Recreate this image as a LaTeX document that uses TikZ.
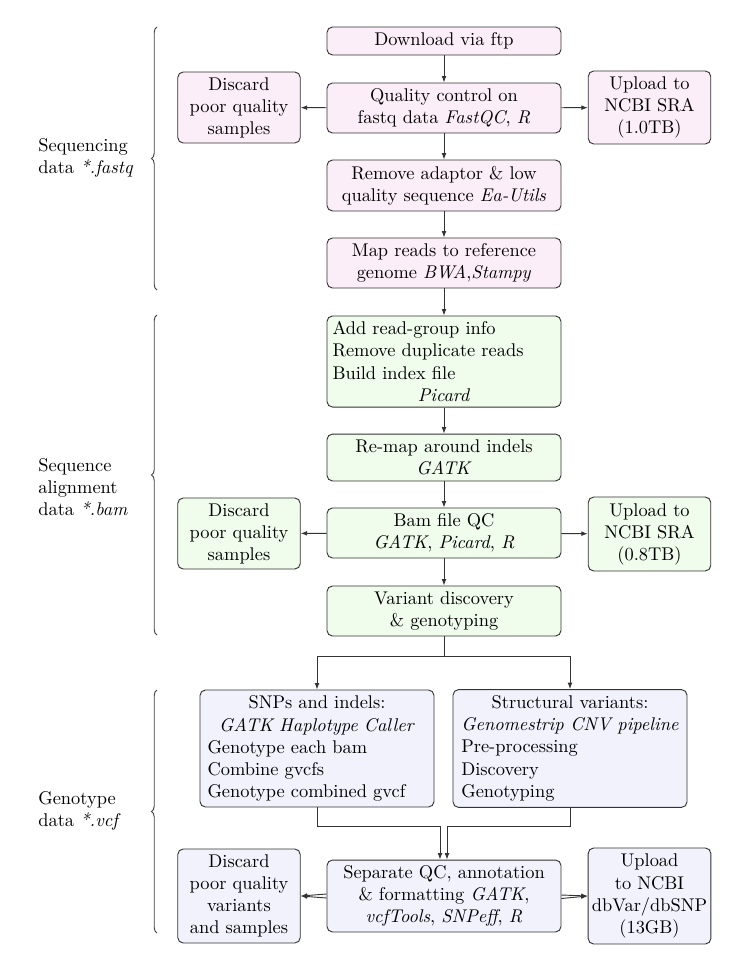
\documentclass[tikz,border=0pt]{standalone}
\usetikzlibrary{arrows.meta,decorations.pathreplacing,calc}
\definecolor{pinkfill}{HTML}{FCEEF8}
\definecolor{greenfill}{HTML}{F0FCEC}
\definecolor{bluefill}{HTML}{F2F2FC}
\definecolor{edge}{HTML}{333333}
\begin{document}
\begin{tikzpicture}[x=0.5435pt,y=-0.5435pt,
  box/.style={draw=edge, rounded corners=3pt, align=center, inner xsep=2pt, inner ysep=2pt, line width=0.5pt},
  wmain/.style={minimum width=127.2pt},
  wside/.style={minimum width=66.6pt},
  pinkbox/.style={box, fill=pinkfill},
  greenbox/.style={box, fill=greenfill},
  bluebox/.style={box, fill=bluefill},
  arr/.style={-{Latex[length=3.5pt,width=2.6pt]}, draw=edge, line width=0.5pt},
  ln/.style={draw=edge, line width=0.5pt},
  brc/.style={decorate, decoration={brace, amplitude=3pt}, draw=black!75, line width=0.5pt},
  lab/.style={anchor=west, align=left, inner sep=0pt}]

\useasboundingbox (0,0) rectangle (737,971);

% ---- sequencing block
\node[pinkbox, wmain, minimum height=15.2pt] (dl) at (444,41) {Download via ftp};
\node[pinkbox, wmain, minimum height=27.2pt] (qc) at (444,108) {Quality control on\\ fastq data \textit{FastQC}, \textit{R}};
\node[pinkbox, wmain, minimum height=27.7pt] (rm) at (444,185.5) {Remove adaptor \& low\\ quality sequence \textit{Ea-Utils}};
\node[pinkbox, wmain, minimum height=27.2pt] (mp) at (444,263) {Map reads to reference\\ genome \textit{BWA},\textit{Stampy}};
\node[pinkbox, wside, minimum height=38.6pt] (d1) at (239,107.5) {Discard\\ poor quality\\ samples};
\node[pinkbox, wside, minimum height=39.7pt] (u1) at (649.5,107.5) {Upload to\\ NCBI SRA\\ (1.0TB)};

% ---- alignment block
\node[greenbox, wmain, minimum height=49.5pt, text width=121.2pt, inner xsep=3pt, align=left] (add) at (444,361.5)
  {Add read-group info\\ Remove duplicate reads\\ Build index file\\ \makebox[121.2pt]{\textit{Picard}}};
\node[greenbox, wmain, minimum height=25.5pt] (remap) at (444,457.5) {Re-map around indels\\ \textit{GATK}};
\node[greenbox, wmain, minimum height=27.2pt] (bam) at (444,533) {Bam file QC\\ \textit{GATK}, \textit{Picard}, \textit{R}};
\node[greenbox, wmain, minimum height=27.2pt] (var) at (444,611) {Variant discovery\\ \& genotyping};
\node[greenbox, wside, minimum height=38.6pt] (d2) at (239,533.5) {Discard\\ poor quality\\ samples};
\node[greenbox, wside, minimum height=40.2pt] (u2) at (649.5,534) {Upload to\\ NCBI SRA\\ (0.8TB)};

% ---- genotype block
\node[bluebox, wmain, minimum height=63.6pt, text width=119pt, inner xsep=4.1pt, align=left] (snp) at (317,748.5)
  {\makebox[119pt]{SNPs and indels:}\\ \makebox[119pt]{\textit{GATK Haplotype Caller}}\\ Genotype each bam\\ Combine gvcfs\\ Genotype combined gvcf};
\node[bluebox, wmain, minimum height=63.6pt] (sv) at (570,748.5)
  {\begin{tabular}{@{}l@{}}\multicolumn{1}{@{}c@{}}{Structural variants:}\\ \textit{Genomestrip CNV pipeline}\\ Pre-processing\\ Discovery\\ Genotyping\end{tabular}};
\node[bluebox, wmain, minimum height=39.1pt] (sep) at (444,896) {Separate QC, annotation\\ \& formatting \textit{GATK},\\ \textit{vcfTools}, \textit{SNPeff}, \textit{R}};
\node[bluebox, wside, minimum height=51.1pt] (d3) at (239,896) {Discard\\ poor quality\\ variants\\ and samples};
\node[bluebox, wside, minimum height=52.2pt] (u3) at (649.5,896) {Upload\\ to NCBI\\ dbVar/dbSNP\\ (13GB)};

% ---- connectors
\draw[arr] (dl) -- (qc);
\draw[arr] (qc) -- (rm);
\draw[arr] (rm) -- (mp);
\draw[arr] (mp) -- (add);
\draw[arr] (add) -- (remap);
\draw[arr] (remap) -- (bam);
\draw[arr] (bam) -- (var);
\draw[arr] (qc) -- (d1);
\draw[arr] (qc) -- (u1);
\draw[arr] (bam) -- (d2);
\draw[arr] (bam) -- (u2);

\draw[ln] (var.south) -- ++(0,20) coordinate (br);
\draw[arr] (br) -| (snp.north);
\draw[arr] (br) -| (sv.north);

\draw[arr] (snp.south) -- ++(0,19) -| ($(sep.north)+(-4,0)$);
\draw[arr] (sv.south) -- ++(0,19) -| ($(sep.north)+(3,0)$);

\draw[arr] ($(sep.west)+(0,-2)$) -- (d3.east);
\draw[arr] ($(sep.west)+(0,2)$) -- (d3.east);
\draw[arr] ($(sep.east)+(0,-1)$) -- (u3.west);
\draw[arr] ($(sep.east)+(0,2.5)$) -- (u3.west);

% ---- braces and labels
\draw[brc] (157,290) -- (157,27);
\draw[brc] (157,635) -- (157,315);
\draw[brc] (157,933) -- (157,690);

\node[lab] (l1) at (38,157.5) {Sequencing\\ data \textit{*.fastq}};
\node[lab] (l2) at (38,487) {Sequence\\ alignment\\ data \textit{*.bam}};
\node[lab] (l3) at (38,811) {Genotype\\ data \textit{*.vcf}};
\end{tikzpicture}
\end{document}
